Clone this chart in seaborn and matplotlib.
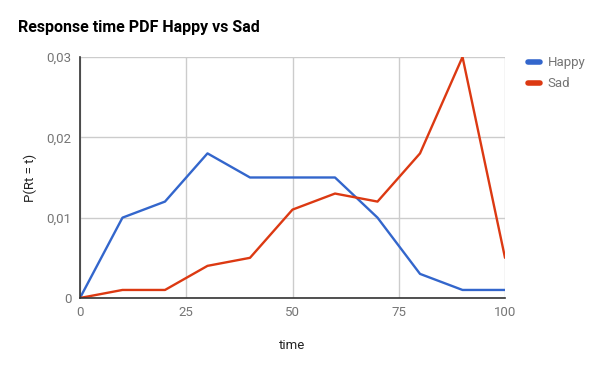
import seaborn as sns
import pandas as pd
import matplotlib.pyplot as plt
from matplotlib.lines import Line2D

time = [0, 10, 20, 30, 40, 50, 60, 70, 80, 90, 100]
happy = [0, 0.010, 0.012, 0.018, 0.015, 0.015, 0.015, 0.010, 0.003, 0.001, 0.001]
sad = [0, 0.001, 0.001, 0.004, 0.005, 0.011, 0.013, 0.012, 0.018, 0.030, 0.005]
y_ticks = [0, 0.01, 0.02, 0.03]
y_labels = ["0", "0,01", "0,02", "0,03"]
x_ticks = [0, 25, 50, 75, 100]

df = pd.DataFrame({"time": time * 2,
                   "p": happy + sad,
                   "series": ["Happy"] * len(time) + ["Sad"] * len(time)})
colors = {"Happy": "#3366cc", "Sad": "#dc3912"}

sns.set_style("white")
plt.rcParams['font.family'] = ['Roboto', 'DejaVu Sans']

fig = plt.figure(figsize=(6, 3.71), dpi=100)
ax = fig.add_axes([0.1333, 0.1968, 0.7084, 0.6496])
sns.lineplot(data=df, x="time", y="p", hue="series", palette=colors,
             linewidth=1.7, ax=ax, legend=False, zorder=3)

ax.set_xlim(0, 100)
ax.set_ylim(0, 0.03)
ax.set_xticks(x_ticks)
ax.set_yticks(y_ticks)
ax.set_yticklabels(y_labels)
ax.grid(True, color="#cccccc", linewidth=1)
ax.tick_params(length=0, labelsize=9.5, colors="#757575", pad=6)
for s in ["top", "right"]:
    ax.spines[s].set_visible(False)
for s in ["left", "bottom"]:
    ax.spines[s].set_color("#333333")
    ax.spines[s].set_linewidth(1.2)
    ax.spines[s].set_zorder(4)

ax.set_xlabel("time", fontsize=9.5, color="#222222", labelpad=14)
ax.set_ylabel("P(Rt = t)", fontsize=9.5, color="#222222", labelpad=7)

fig.text(0.03, 0.925, "Response time PDF Happy vs Sad", fontsize=11.5,
         fontweight="bold", color="#000000", va="center")

handles = [Line2D([0], [0], color=colors[k], linewidth=4) for k in ["Happy", "Sad"]]
leg = fig.legend(handles, ["Happy", "Sad"], loc="upper left",
                 bbox_to_anchor=(0.86, 0.88), frameon=False, fontsize=9.5,
                 handlelength=0.9, labelspacing=0.6, handletextpad=0.6)
for t in leg.get_texts():
    t.set_color("#757575")

fig.savefig("out.png", dpi=100)
